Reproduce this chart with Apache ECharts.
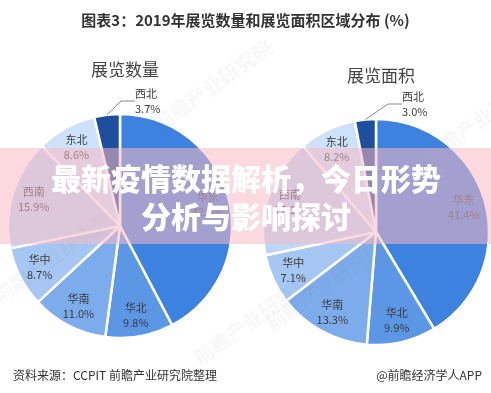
<!DOCTYPE html>
<html>
<head>
<meta charset="utf-8">
<script src="https://cdn.jsdelivr.net/npm/echarts@6/dist/echarts.min.js"></script>
<style>
html,body{margin:0;padding:0;background:#fff;}
#chart{width:491px;height:393px;}
</style>
</head>
<body>
<div id="chart"></div>
<script>
// ---- data ----
const regions = ['华东', '华北', '华南', '华中', '西南', '东北', '西北'];
const exhibitionCountShare = [42.3, 9.8, 11.0, 8.7, 15.9, 8.6, 3.7];
const exhibitionAreaShare = [41.4, 9.9, 13.3, 7.1, 17.1, 8.2, 3.0];
const chartTitle = '图表3：2019年展览数量和展览面积区域分布 (%)';
const pieTitles = ['展览数量', '展览面积'];
const sourceText = '资料来源：CCPIT 前瞻产业研究院整理';
const brandText = '@前瞻经济学人APP';
const overlayLines = ['最新疫情数据解析，今日形势', '分析与影响探讨'];

// ---- style ----
const palette = ['#3d82de', '#5c97e6', '#7daced', '#a6c7f4', '#bdd7f7', '#cde2fa', '#1e4f9d'];
const FONT = '"Noto Sans CJK SC", "Noto Sans", sans-serif';
const pies = [
  { center: [120, 226], r: 112, values: exhibitionCountShare },
  { center: [376, 232], r: 113, values: exhibitionAreaShare }
];

const chart = echarts.init(document.getElementById('chart'), null, { renderer: 'canvas' });

function mkData(values) {
  return regions.map((n, i) => ({ name: n, value: values[i], itemStyle: { color: palette[i] } }));
}

const series = [];
pies.forEach((p, k) => {
  series.push({
    type: 'pie',
    center: p.center,
    radius: [0, p.r],
    startAngle: 90,
    clockwise: true,
    silent: true,
    animation: false,
    label: { show: false },
    labelLine: { show: false },
    itemStyle: { borderColor: '#fff', borderWidth: 2.5 },
    data: mkData(p.values),
    z: 2
  });
  const dx = k === 0 ? 15 : 26;
  const dy = k === 0 ? -125 : -128;
  series.push({
    type: 'pie',
    center: p.center,
    radius: [p.r * 0.56, p.r],
    startAngle: 90,
    clockwise: true,
    silent: true,
    animation: false,
    itemStyle: { color: 'rgba(0,0,0,0)', borderWidth: 0 },
    label: {
      show: true,
      position: 'inside',
      color: '#3a3a3a',
      fontFamily: FONT,
      fontSize: 11,
      lineHeight: 15,
      formatter: q => q.name + '\n' + q.value.toFixed(1) + '%'
    },
    labelLine: { show: false },
    data: regions.map((n, i) => {
      const d = { name: n, value: p.values[i] };
      if (i === regions.length - 1) {
        d.label = { position: 'outside', align: 'left' };
        d.labelLine = { show: true, length: 6, length2: 14, lineStyle: { color: '#8a8a8a', width: 1 } };
      }
      return d;
    }),
    labelLayout: function (params) {
      if (params.dataIndex === regions.length - 1) {
        return { x: p.center[0] + dx, y: p.center[1] + dy, align: 'left', verticalAlign: 'middle' };
      }
      return {};
    },
    z: 3
  });
});

const graphics = [];
const wm = [
  { x: 150, y: 118, rot: 0.62 },
  { x: 420, y: 150, rot: 0.62 },
  { x: 262, y: 318, rot: 0.62 },
  { x: 190, y: 352, rot: 0.62 },
  { x: -10, y: 290, rot: 0.62 }
];
wm.forEach(w => graphics.push({
  type: 'text', x: w.x, y: w.y, rotation: w.rot, z: 50, silent: true,
  style: { text: '前瞻产业研究院', fill: 'rgba(120,120,120,0.06)', font: 'bold 20px ' + FONT }
}));
graphics.push({
  type: 'rect', z: 100, silent: true,
  shape: { x: 0, y: 148, width: 491, height: 96 },
  style: { fill: 'rgba(248,185,195,0.55)' }
});
overlayLines.forEach((t, i) => graphics.push({
  type: 'text', z: 101, silent: true,
  x: 246, y: i === 0 ? 179 : 217,
  style: {
    text: t, fill: '#ffffff', align: 'center', verticalAlign: 'middle',
    font: '900 30px ' + FONT,
    shadowColor: 'rgba(60,40,60,0.45)', shadowBlur: 3, shadowOffsetX: 1, shadowOffsetY: 1
  }
}));

chart.setOption({
  backgroundColor: '#ffffff',
  animation: false,
  title: [
    { text: chartTitle, left: 'center', top: 8,
      textStyle: { fontFamily: FONT, fontSize: 15, fontWeight: 'bold', color: '#333' } },
    { text: pieTitles[0], left: pies[0].center[0], top: 56, textAlign: 'center',
      textStyle: { fontFamily: FONT, fontSize: 17, fontWeight: 'normal', color: '#444' } },
    { text: pieTitles[1], left: pies[1].center[0], top: 62, textAlign: 'center',
      textStyle: { fontFamily: FONT, fontSize: 17, fontWeight: 'normal', color: '#444' } },
    { text: sourceText, left: 8, top: 364,
      textStyle: { fontFamily: FONT, fontSize: 12, fontWeight: 'normal', color: '#333' } },
    { text: brandText, right: 4, top: 364,
      textStyle: { fontFamily: FONT, fontSize: 12, fontWeight: 'normal', color: '#333' } }
  ],
  series: series,
  graphic: graphics
});
</script>
</body>
</html>
